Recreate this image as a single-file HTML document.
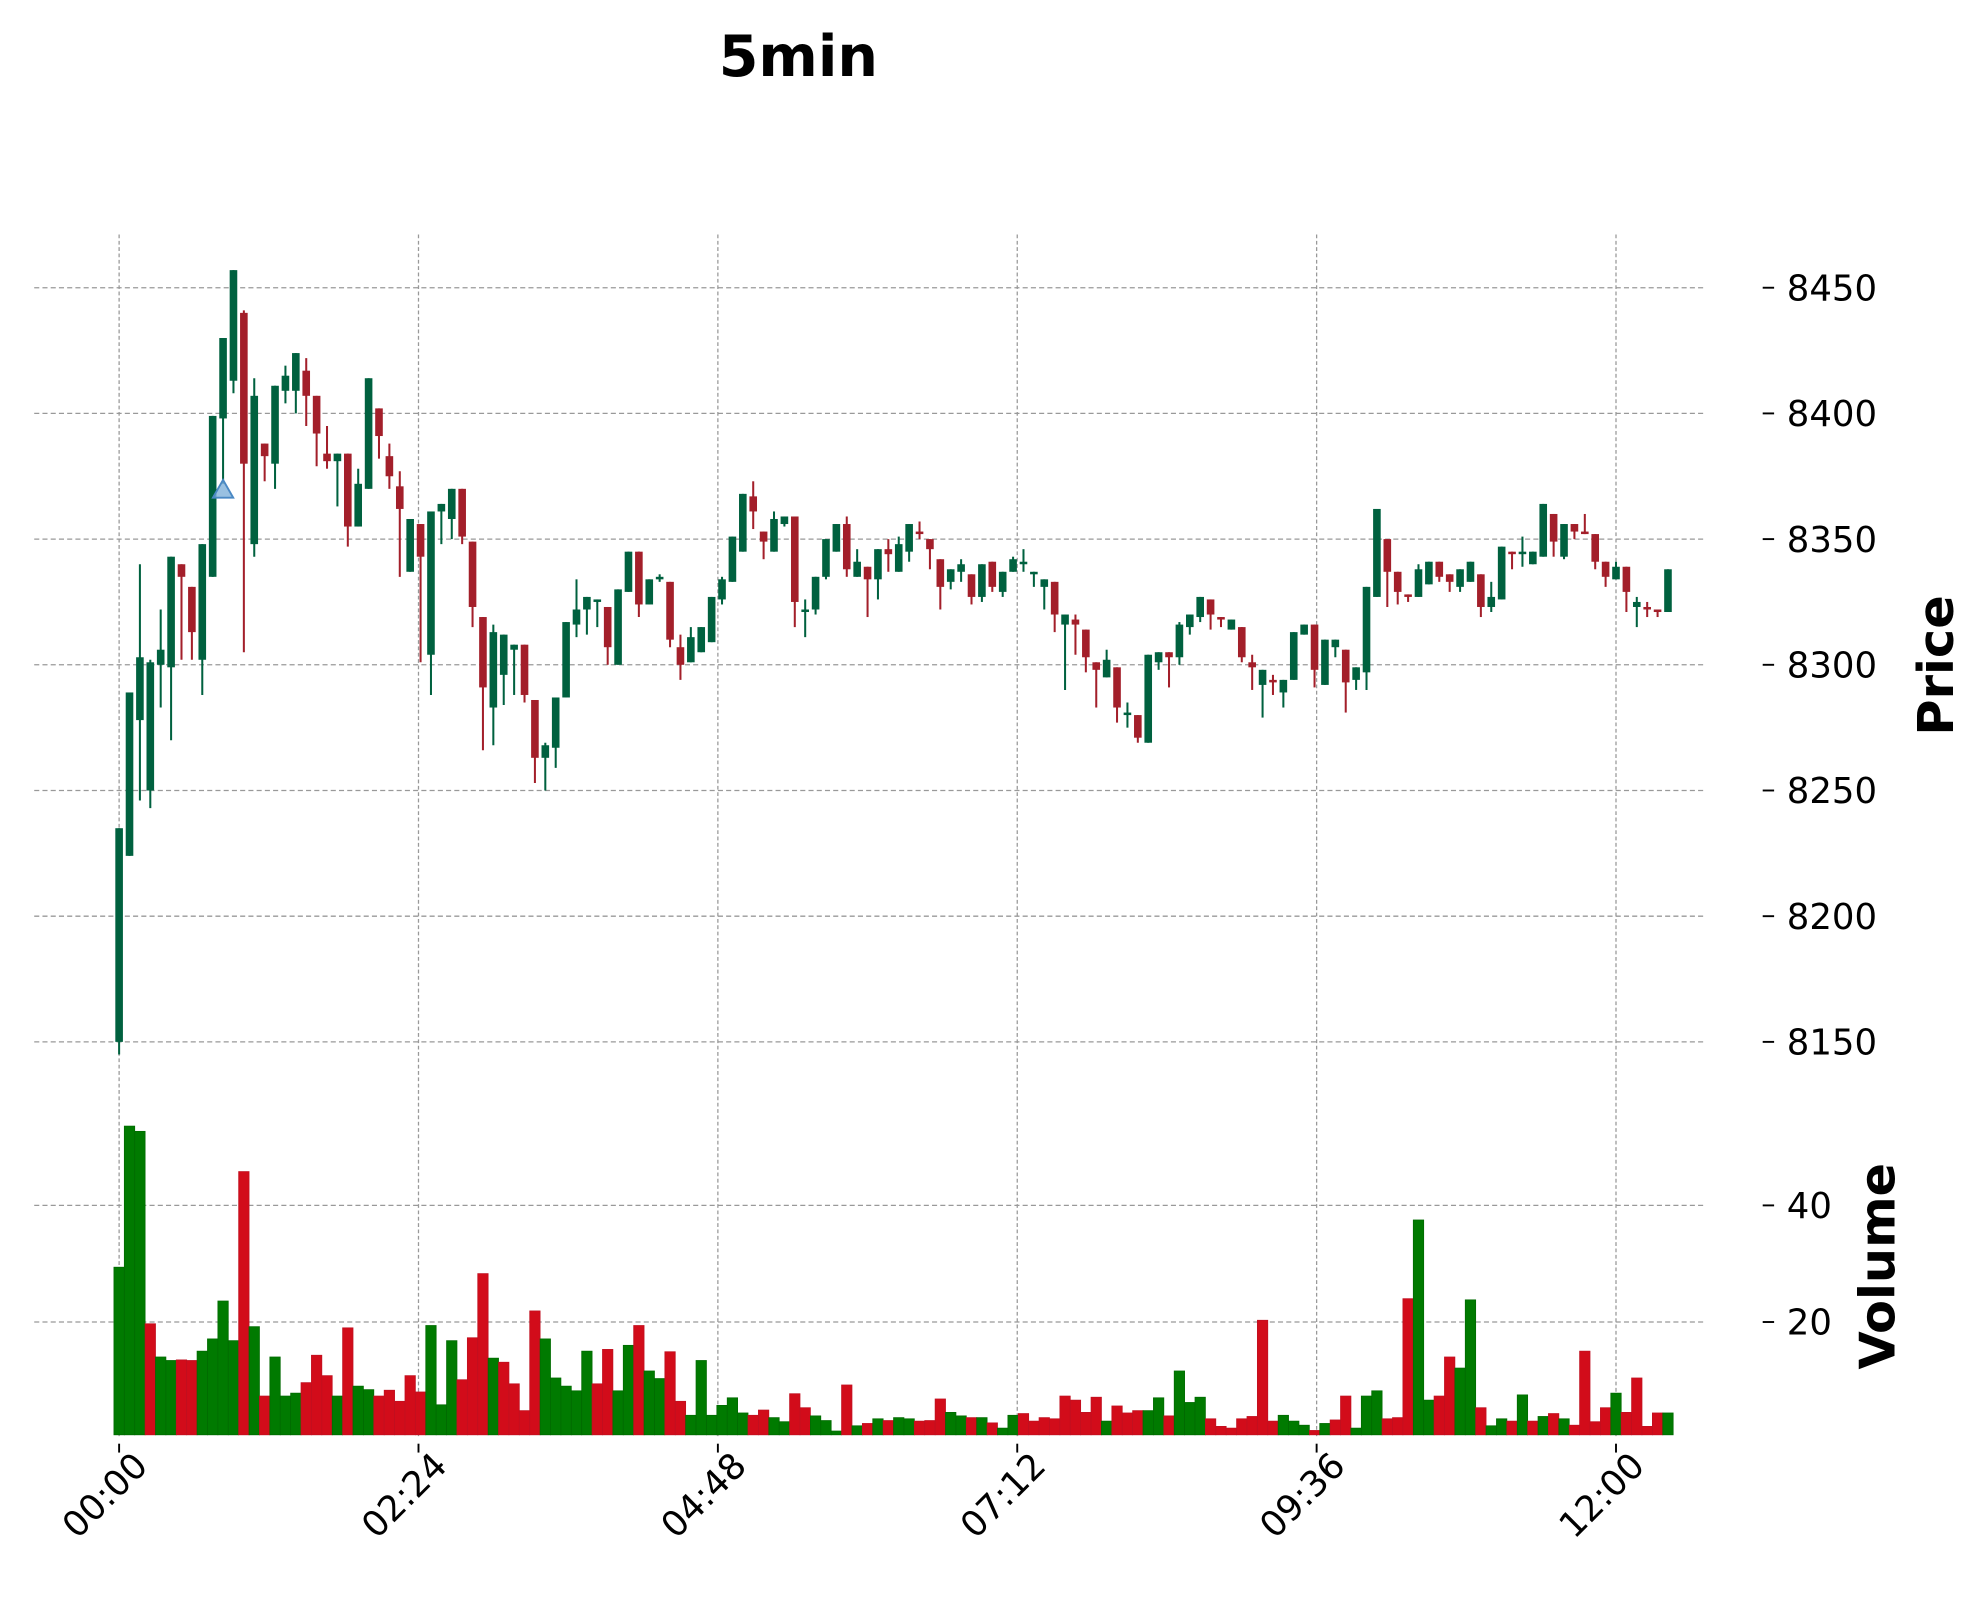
<!DOCTYPE html>
<html><head><meta charset="utf-8"><style>
html,body{margin:0;padding:0;background:#fff}
svg{display:block;font-family:"DejaVu Sans","Liberation Sans",sans-serif}
</style></head><body>
<svg id="chart" width="1987" height="1611" viewBox="0 0 1568 1271" preserveAspectRatio="none" xmlns="http://www.w3.org/2000/svg">
<rect x="0" y="0" width="1568" height="1271" fill="#fff"/>
<text x="630" y="60" text-anchor="middle" font-size="45" font-weight="bold" fill="#000">5min</text>
<g id="grid"></g><g id="vol"></g><g id="candles"></g><g id="axes"></g>
<text transform="translate(1541,525) rotate(-90)" text-anchor="middle" font-size="39" font-weight="bold">Price</text>
<text transform="translate(1495,999) rotate(-90)" text-anchor="middle" font-size="39" font-weight="bold">Volume</text>
</svg>
<script>
const opens=[8150,8224,8278,8250,8300,8299,8340,8331,8302,8335,8398,8413,8440,8348,8388,8380,8409,8409,8417,8407,8384,8381,8384,8355,8370,8402,8383,8371,8337,8356,8304,8361,8358,8370,8349,8319,8283,8296,8306,8308,8286,8263,8267,8287,8316,8322,8325,8323,8300,8329,8345,8324,8334,8333,8307,8301,8305,8309,8326,8333,8345,8367,8353,8345,8356,8359,8321,8322,8335,8345,8356,8335,8339,8334,8346,8337,8345,8353,8350,8342,8333,8337,8336,8327,8341,8329,8337,8340,8336,8331,8333,8316,8318,8314,8301,8295,8299,8280,8280,8269,8301,8305,8303,8315,8319,8326,8319,8314,8315,8301,8292,8294,8289,8294,8312,8316,8292,8307,8306,8294,8297,8327,8350,8337,8328,8327,8332,8341,8336,8331,8333,8336,8323,8326,8345,8344,8340,8343,8360,8343,8356,8353,8352,8341,8334,8339,8323,8323,8322,8321];
const highs=[8235,8289,8340,8302,8322,8343,8340,8331,8348,8399,8430,8457,8441,8414,8388,8411,8419,8424,8422,8407,8395,8384,8384,8378,8414,8402,8388,8377,8358,8356,8361,8364,8370,8370,8349,8319,8316,8312,8308,8308,8286,8269,8287,8317,8334,8327,8326,8323,8330,8345,8345,8334,8336,8333,8312,8315,8315,8327,8335,8351,8368,8373,8353,8361,8359,8359,8326,8335,8350,8356,8359,8346,8339,8346,8350,8351,8356,8357,8350,8342,8338,8342,8336,8340,8341,8337,8343,8346,8337,8334,8333,8320,8320,8314,8301,8306,8299,8285,8280,8304,8305,8305,8317,8320,8327,8326,8319,8318,8315,8304,8298,8296,8294,8313,8316,8316,8310,8310,8306,8299,8331,8362,8350,8337,8328,8340,8341,8341,8336,8338,8341,8336,8333,8347,8345,8351,8345,8364,8360,8356,8356,8360,8352,8341,8341,8339,8327,8325,8322,8338];
const lows=[8145,8224,8246,8243,8283,8270,8302,8302,8288,8335,8372,8408,8305,8343,8373,8370,8404,8400,8395,8379,8378,8363,8347,8355,8370,8382,8370,8335,8337,8301,8288,8348,8350,8348,8315,8266,8268,8284,8288,8285,8253,8250,8259,8287,8311,8312,8315,8300,8300,8329,8319,8324,8333,8307,8294,8301,8305,8309,8324,8333,8345,8354,8342,8345,8355,8315,8311,8320,8334,8345,8335,8335,8319,8326,8337,8337,8341,8350,8338,8322,8330,8333,8324,8325,8329,8327,8337,8337,8331,8322,8313,8290,8304,8297,8283,8295,8277,8275,8269,8269,8298,8291,8300,8312,8317,8314,8315,8314,8301,8290,8279,8288,8283,8294,8312,8291,8292,8303,8281,8290,8290,8327,8323,8324,8325,8327,8332,8333,8329,8329,8333,8319,8321,8326,8338,8339,8340,8343,8343,8342,8350,8352,8338,8331,8334,8321,8315,8319,8319,8321];
const closes=[8235,8289,8303,8301,8306,8343,8335,8313,8348,8399,8430,8457,8380,8407,8383,8411,8415,8424,8407,8392,8381,8384,8355,8372,8414,8391,8375,8362,8358,8343,8361,8364,8370,8351,8323,8291,8313,8312,8308,8288,8263,8268,8287,8317,8322,8327,8326,8307,8330,8345,8324,8334,8335,8310,8300,8311,8315,8327,8334,8351,8368,8361,8349,8358,8359,8325,8322,8335,8350,8356,8338,8341,8334,8346,8344,8348,8356,8352,8346,8331,8338,8340,8327,8340,8331,8337,8342,8341,8337,8334,8320,8320,8316,8303,8298,8302,8283,8281,8271,8304,8305,8303,8316,8320,8327,8320,8318,8318,8303,8299,8298,8293,8294,8313,8316,8298,8310,8310,8293,8299,8331,8362,8337,8329,8327,8338,8341,8335,8333,8338,8341,8323,8327,8347,8344,8345,8345,8364,8349,8356,8353,8352,8341,8335,8339,8329,8325,8322,8321,8338];
const volumes=[29.4,53.6,52.7,19.7,14,13.4,13.5,13.4,15,17.1,23.6,16.8,45.8,19.2,7.3,14,7.3,7.8,9.6,14.3,10.8,7.3,19,9,8.4,7.3,8.3,6.4,10.8,8,19.4,5.8,16.8,10.1,17.3,28.3,13.8,13.1,9.4,4.8,21.9,17.1,10.4,9,8.2,15,9.4,15.3,8.2,16,19.4,11.6,10.3,14.9,6.4,4,13.4,4,5.7,7,4.4,4,4.9,3.6,2.9,7.7,5.3,3.9,3.1,1.3,9.2,2.2,2.6,3.4,3.1,3.6,3.4,3,3.1,6.8,4.5,3.9,3.6,3.6,2.7,1.8,4,4.3,3,3.6,3.4,7.3,6.6,4.5,7.1,3,5.6,4.4,4.8,4.8,7,3.9,11.6,6.2,7.1,3.4,2.1,1.8,3.4,3.8,20.3,3,4,3,2.3,1.4,2.6,3.2,7.3,1.8,7.3,8.2,3.4,3.6,24,37.5,6.6,7.3,14,12.1,23.8,5.3,2.2,3.4,3,7.5,3,3.8,4.3,3.4,2.3,15,2.9,5.3,7.8,4.5,10.4,2.1,4.4,4.4];
const volUp=[1,1,1,0,1,1,0,0,1,1,1,1,0,1,0,1,1,1,0,0,0,1,0,1,1,0,0,0,0,0,1,1,1,0,0,0,1,0,0,0,0,1,1,1,1,1,0,0,1,1,0,1,1,0,0,1,1,1,1,1,1,0,0,1,1,0,0,1,1,1,0,1,0,1,0,1,1,0,0,0,1,1,0,1,0,1,1,0,0,0,0,0,0,0,0,1,0,0,0,1,1,0,1,1,1,0,0,0,0,0,0,0,1,1,1,0,1,0,0,1,1,1,0,0,0,1,1,0,0,1,1,0,1,1,0,1,0,1,0,1,0,0,0,0,1,0,0,0,0,1];
const priceTicks=[8150,8200,8250,8300,8350,8400,8450];
const volTicks=[20,40];
const timeLabels=["00:00","02:24","04:48","07:12","09:36","12:00"];
const markerIndex=[10];const markerPrice=[8370];

const NS="http://www.w3.org/2000/svg";
const X0=94,DX=8.203;
function xS(i){return X0+i*DX;}
function yP(p){return 227+(8450-p)*1.9833;}
function yV(v){return 1135-v*4.6;}
function mk(t,a,parent){const e=document.createElementNS(NS,t);for(const k in a)e.setAttribute(k,a[k]);parent.appendChild(e);return e;}
const grid=document.getElementById('grid'),vol=document.getElementById('vol'),cg=document.getElementById('candles'),ax=document.getElementById('axes');
priceTicks.forEach(p=>{const y=yP(p);
 const g=mk('line',{x1:27,x2:1345,y1:y,y2:y,stroke:'#999','stroke-width':1,'stroke-dasharray':'4,2.5'},grid);
 
 
 mk('line',{x1:1391,x2:1400,y1:y,y2:y,stroke:'#000','stroke-width':1.5},ax);
 const t=mk('text',{x:1410,y:y+10,'font-size':28},ax);t.textContent=p;
 
 
});
volTicks.forEach(v=>{const y=yV(v);
 const g=mk('line',{x1:27,x2:1345,y1:y,y2:y,stroke:'#999','stroke-width':1,'stroke-dasharray':'4,2.5'},grid);
 
 
 mk('line',{x1:1391,x2:1400,y1:y,y2:y,stroke:'#000','stroke-width':1.5},ax);
 const t=mk('text',{x:1410,y:y+10,'font-size':28},ax);t.textContent=v;
 
 
});
timeLabels.forEach((lab,k)=>{const x=xS(k*28.8);
 const g=mk('line',{x1:x,x2:x,y1:185,y2:1135,stroke:'#999','stroke-width':1,'stroke-dasharray':'3,2'},grid);
 
 
 mk('line',{x1:x,x2:x,y1:1139,y2:1146,stroke:'#000','stroke-width':1.5},ax);
 const t=mk('text',{x:0,y:0,'font-size':28,'text-anchor':'end',transform:`translate(${x+24},${1158}) rotate(-45)`},ax);t.textContent=lab;
 
 
});
volumes.forEach((v,i)=>{const x=xS(i);const y=yV(v);
 const r=mk('rect',{x:x-4.1,y:y,width:8.2,height:1132-y,fill:volUp[i]?'#007a00':'#d20c1a',stroke:volUp[i]?'#006a00':'#c01020','stroke-width':0.6},vol);
 
 
});
opens.forEach((o,i)=>{const c=closes[i],h=highs[i],l=lows[i],x=xS(i);
 const col=c>=o?'#00613f':'#a31f2a';
 const g=mk('g',{},cg);
 
 
 mk('line',{x1:x,x2:x,y1:yP(h),y2:yP(l),stroke:col,'stroke-width':1.6},g);
 const top=yP(Math.max(o,c)),bot=yP(Math.min(o,c));
 mk('rect',{x:x-3,y:top,width:6,height:Math.max(bot-top,1.2),fill:col},g);
});
markerIndex.forEach((mi,k)=>{const x=xS(mi),y=yP(markerPrice[k]);
 const m=mk('polygon',{points:`${x-8},${y+7} ${x+8},${y+7} ${x},${y-7}`,fill:'#7fb0da','fill-opacity':0.8,stroke:'#4a88c4','stroke-width':1.5},cg);
 
 
});
</script>
</body></html>
